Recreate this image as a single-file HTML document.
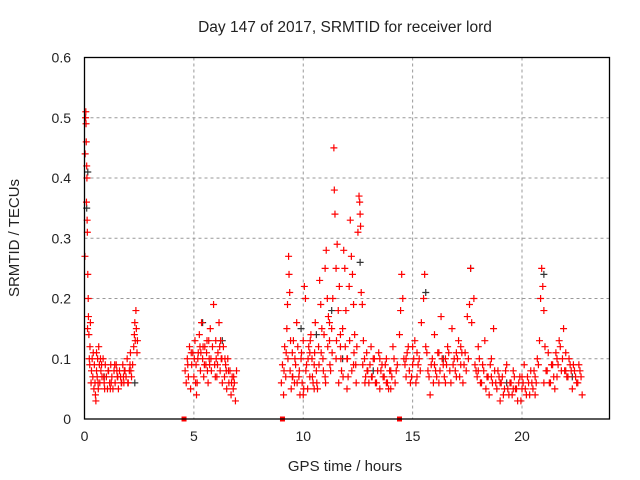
<!DOCTYPE html>
<html><head><meta charset="utf-8"><style>
body{margin:0;background:#fff}
svg{display:block;font-family:"Liberation Sans",sans-serif}
</style></head><body>
<svg id="chart" width="640" height="480">
<text x="345" y="32" text-anchor="middle" font-size="15.5" fill="#222">Day 147 of 2017, SRMTID for receiver lord</text>
<text x="345" y="471" text-anchor="middle" font-size="15" fill="#222">GPS time / hours</text>
<text transform="translate(19,238) rotate(-90)" text-anchor="middle" font-size="15" fill="#222">SRMTID / TECUs</text>
<g id="grid"></g><g id="ticks"></g><g id="marks"></g>
<rect x="84.5" y="57.5" width="525" height="361.5" fill="none" stroke="#000" stroke-width="1.3"/>
</svg>
<script>
const xTicks=[0,5,10,15,20];
const yTicks=[0,0.1,0.2,0.3,0.4,0.5,0.6];
const yTickLabels=["0","0.1","0.2","0.3","0.4","0.5","0.6"];
const gapHours=[4.55,9.05,14.4];
const redHours=[0.02,0.03,0.05,0.06,0.07,0.08,0.09,0.1,0.11,0.12,0.13,0.14,0.15,0.17,0.18,0.2,0.22,0.24,0.25,0.27,0.3,0.32,0.35,0.38,0.4,0.43,0.45,0.48,0.5,0.52,0.55,0.58,0.6,0.63,0.65,0.68,0.7,0.73,0.75,0.8,0.85,0.9,0.95,1.0,1.05,1.1,1.15,1.2,1.25,1.3,1.35,1.4,1.45,1.5,1.55,1.6,1.65,1.7,1.75,1.8,1.85,1.9,1.95,2.0,2.05,2.1,2.15,2.2,2.25,2.28,2.3,2.32,2.35,2.37,2.4,2.42,
4.6,4.65,4.7,4.75,4.8,4.85,4.9,4.95,5.0,5.05,5.1,5.15,5.2,5.25,5.3,5.35,5.4,5.45,5.5,5.55,5.6,5.65,5.7,5.75,5.8,5.85,5.9,5.95,6.0,6.05,6.1,6.15,6.2,6.25,6.3,6.35,6.4,6.45,6.5,6.55,6.6,6.65,6.7,6.75,6.8,6.85,6.9,6.95,5.02,5.42,5.62,5.12,6.22,6.42,
9.0,9.05,9.1,9.15,9.2,9.25,9.28,9.3,9.33,9.35,9.38,9.4,9.45,9.5,9.55,9.6,9.65,9.7,9.75,9.8,9.85,9.9,9.95,10.0,10.05,10.1,10.15,10.2,10.25,10.3,10.35,10.4,10.45,10.5,10.55,10.6,10.65,10.7,10.75,10.8,10.85,10.9,10.95,11.0,11.05,11.1,11.15,11.2,11.25,11.3,11.35,11.4,11.42,11.45,11.5,11.55,11.6,11.65,11.7,11.75,11.8,11.85,11.9,11.95,12.0,12.05,12.1,12.15,12.2,12.25,12.3,12.35,12.4,12.45,12.5,12.55,12.58,12.6,12.62,12.65,12.7,12.75,12.8,12.85,12.9,12.95,13.0,9.5,10.0,10.5,11.0,11.5,12.0,10.3,11.2,11.7,12.3,
13.05,13.1,13.15,13.2,13.3,13.4,13.5,13.6,13.7,13.8,13.9,14.0,14.1,14.2,14.3,14.4,14.45,14.5,14.55,14.6,14.7,14.8,14.9,15.0,15.1,15.2,15.3,15.4,15.5,15.55,15.6,15.7,15.8,15.9,16.0,16.1,16.2,16.3,16.4,16.5,16.6,16.7,16.8,16.9,17.0,17.1,17.2,17.3,17.4,17.5,17.6,17.65,17.7,17.8,17.9,18.0,18.1,18.2,18.3,18.4,18.5,18.6,18.7,18.8,18.9,19.0,19.1,19.2,19.3,19.4,19.5,19.6,19.7,19.8,19.9,20.0,20.1,20.2,20.3,20.4,20.5,20.6,20.7,20.8,20.85,20.9,20.95,21.0,21.05,21.1,21.2,21.3,21.4,21.5,21.6,21.7,21.8,21.9,22.0,22.1,22.2,22.3,22.4,22.5,22.6,22.7,22.75,13.5,14.0,15.0,16.0,16.5,17.0,18.0,19.0,20.0,21.0,22.0,15.2,16.2,17.2,18.6,19.6,20.6,21.6,14.7,13.8,
0.62,0.78,0.92,1.08,1.22,1.38,1.52,1.68,1.82,1.98,2.12,0.55,0.88,1.18,1.48,1.78,2.08,
4.72,4.88,5.08,5.18,5.28,5.48,5.58,5.68,5.78,5.98,6.08,6.18,6.28,6.48,6.58,6.72,6.82,5.32,5.72,6.02,
9.12,9.22,9.42,9.52,9.62,9.72,9.82,9.92,10.02,10.12,10.22,10.32,10.42,10.52,10.62,10.72,10.82,10.92,11.02,11.12,11.22,11.32,11.52,11.62,11.72,11.82,11.92,12.02,12.12,12.22,12.32,12.42,12.72,12.82,12.92,
13.12,13.25,13.35,13.45,13.55,13.65,13.75,13.85,13.95,14.05,14.15,14.25,14.65,14.75,14.85,14.95,15.05,15.15,15.25,15.35,15.65,15.75,15.85,15.95,16.05,16.15,16.25,16.35,16.45,16.55,16.65,16.75,16.85,16.95,17.05,17.15,17.25,17.35,17.45,17.55,17.85,17.95,18.05,18.15,18.25,18.35,18.45,18.55,18.65,18.75,18.85,18.95,19.05,19.15,19.25,19.35,19.45,19.55,19.65,19.75,19.85,19.95,20.05,20.15,20.25,20.35,20.45,20.55,20.65,20.75,21.15,21.25,21.35,21.45,21.55,21.65,21.75,21.85,21.95,22.05,22.15,22.25,22.35,22.45,22.55,22.65];
const redValues=[0.27,0.44,0.5,0.51,0.49,0.46,0.36,0.42,0.4,0.33,0.31,0.15,0.24,0.2,0.17,0.14,0.1,0.09,0.12,0.16,0.06,0.08,0.1,0.07,0.11,0.05,0.09,0.06,0.04,0.03,0.08,0.07,0.1,0.05,0.12,0.09,0.06,0.1,0.08,0.07,0.1,0.06,0.09,0.07,0.05,0.08,0.06,0.09,0.07,0.05,0.08,0.06,0.09,0.07,0.05,0.08,0.07,0.06,0.09,0.06,0.08,0.07,0.1,0.06,0.08,0.11,0.07,0.09,0.12,0.14,0.16,0.13,0.18,0.15,0.11,0.13,
0.08,0.06,0.1,0.07,0.12,0.05,0.09,0.11,0.07,0.13,0.09,0.06,0.11,0.14,0.08,0.16,0.1,0.07,0.12,0.09,0.13,0.06,0.1,0.15,0.08,0.12,0.19,0.09,0.13,0.07,0.11,0.16,0.08,0.1,0.06,0.12,0.07,0.09,0.05,0.1,0.06,0.08,0.04,0.07,0.05,0.06,0.03,0.08,0.1,0.12,0.08,0.04,0.13,0.1,
0.06,0.09,0.04,0.12,0.07,0.15,0.19,0.1,0.27,0.24,0.21,0.08,0.05,0.11,0.13,0.06,0.09,0.16,0.12,0.07,0.04,0.1,0.06,0.13,0.22,0.2,0.09,0.05,0.12,0.07,0.14,0.1,0.06,0.09,0.16,0.08,0.05,0.12,0.23,0.19,0.15,0.1,0.14,0.25,0.28,0.2,0.17,0.13,0.08,0.15,0.2,0.45,0.38,0.34,0.25,0.29,0.18,0.22,0.12,0.08,0.15,0.28,0.25,0.18,0.1,0.07,0.22,0.33,0.27,0.24,0.19,0.14,0.09,0.12,0.31,0.37,0.36,0.34,0.32,0.21,0.19,0.13,0.1,0.07,0.11,0.08,0.06,0.07,0.04,0.05,0.07,0.1,0.05,0.11,0.16,0.14,0.09,
0.09,0.12,0.07,0.1,0.06,0.08,0.05,0.09,0.07,0.1,0.05,0.08,0.12,0.06,0.09,0.14,0.18,0.24,0.2,0.1,0.07,0.12,0.06,0.09,0.13,0.07,0.1,0.16,0.2,0.24,0.12,0.08,0.04,0.1,0.14,0.07,0.11,0.17,0.09,0.06,0.12,0.08,0.15,0.1,0.07,0.13,0.09,0.06,0.11,0.17,0.19,0.25,0.16,0.2,0.08,0.12,0.06,0.09,0.13,0.07,0.04,0.1,0.15,0.06,0.08,0.03,0.07,0.05,0.09,0.04,0.06,0.08,0.05,0.03,0.07,0.05,0.09,0.04,0.06,0.08,0.05,0.07,0.1,0.13,0.2,0.25,0.22,0.18,0.12,0.08,0.11,0.06,0.09,0.05,0.1,0.13,0.08,0.15,0.11,0.07,0.09,0.05,0.08,0.06,0.09,0.07,0.04,0.1,0.05,0.12,0.09,0.1,0.11,0.08,0.06,0.07,0.06,0.08,0.11,0.06,0.12,0.07,0.05,0.04,0.07,0.1,0.06,
0.06,0.09,0.05,0.08,0.06,0.09,0.07,0.06,0.08,0.06,0.08,0.11,0.07,0.05,0.08,0.07,0.09,
0.09,0.11,0.06,0.1,0.12,0.09,0.11,0.13,0.1,0.07,0.09,0.12,0.1,0.08,0.08,0.06,0.07,0.11,0.09,0.1,
0.08,0.11,0.13,0.07,0.1,0.06,0.08,0.11,0.05,0.08,0.1,0.13,0.07,0.11,0.06,0.09,0.11,0.08,0.06,0.12,0.09,0.11,0.13,0.06,0.1,0.07,0.12,0.1,0.13,0.08,0.11,0.06,0.09,0.06,0.08,
0.07,0.1,0.06,0.11,0.08,0.07,0.09,0.06,0.08,0.07,0.1,0.08,0.09,0.11,0.08,0.07,0.1,0.06,0.09,0.08,0.11,0.07,0.09,0.06,0.08,0.11,0.08,0.1,0.07,0.09,0.11,0.06,0.09,0.08,0.1,0.07,0.11,0.09,0.08,0.1,0.09,0.07,0.1,0.06,0.08,0.05,0.07,0.09,0.06,0.08,0.05,0.07,0.06,0.04,0.08,0.05,0.06,0.04,0.07,0.05,0.06,0.03,0.06,0.05,0.07,0.04,0.06,0.08,0.06,0.09,0.08,0.06,0.09,0.07,0.11,0.09,0.12,0.1,0.08,0.07,0.1,0.08,0.09,0.07,0.06,0.08];
const darkHours=[0.1,0.15,0.9,2.3,5.4,6.3,9.9,10.6,11.3,11.8,12.6,13.2,15.6,16.4,17.65,19.3,21.0,22.3];
const darkValues=[0.35,0.41,0.07,0.06,0.16,0.13,0.15,0.14,0.18,0.1,0.26,0.08,0.21,0.1,0.25,0.06,0.24,0.07];

const X0=84.5,X1=609.5,Y0=419,Y1=57.5,XMAX=24,YMAX=0.6;
const xs=h=>X0+(X1-X0)*h/XMAX;
const ys=v=>Y0-(Y0-Y1)*v/YMAX;
const NS='http://www.w3.org/2000/svg';
const grid=document.getElementById('grid'),ticks=document.getElementById('ticks'),marks=document.getElementById('marks');
function mk(t,a,p){const e=document.createElementNS(NS,t);for(const k in a)e.setAttribute(k,a[k]);p.appendChild(e);return e;}
xTicks.forEach(t=>{
  const x=xs(t);
  if(t>0){const g=mk('line',{x1:x,x2:x,y1:Y1,y2:Y0,stroke:'#999','stroke-dasharray':'3,3'},grid);
  
  }
  const l=mk('text',{x:x,y:Y0+22,'text-anchor':'middle','font-size':14,fill:'#222'},ticks);
  l.textContent=t;
  
  
});
yTicks.forEach((t,i)=>{
  const y=ys(t);
  if(t>0&&t<YMAX){const g=mk('line',{x1:X0,x2:X1,y1:y,y2:y,stroke:'#999','stroke-dasharray':'3,3'},grid);
  
  }
  const l=mk('text',{x:71,y:y+5,'text-anchor':'end','font-size':14,fill:'#222'},ticks);
  l.textContent=yTickLabels[i];
  
  
});
function cross(h,v,c,name){
  const x=xs(h),y=ys(v);
  const p=mk('path',{d:`M${x-3.5},${y}H${x+3.5}M${x},${y-3.5}V${y+3.5}`,stroke:c,'stroke-width':1.2,fill:'none'},marks);
  
  
}
darkHours.forEach((h,i)=>cross(h,darkValues[i],'#333','dark-point'));
redHours.forEach((h,i)=>cross(h,redValues[i],'#f00','srmtid-point'));
gapHours.forEach(h=>{
  const r=mk('rect',{x:xs(h)-2.5,y:Y0-2.5,width:5,height:5,fill:'#f00'},marks);
  
  
});
</script>
</body></html>
